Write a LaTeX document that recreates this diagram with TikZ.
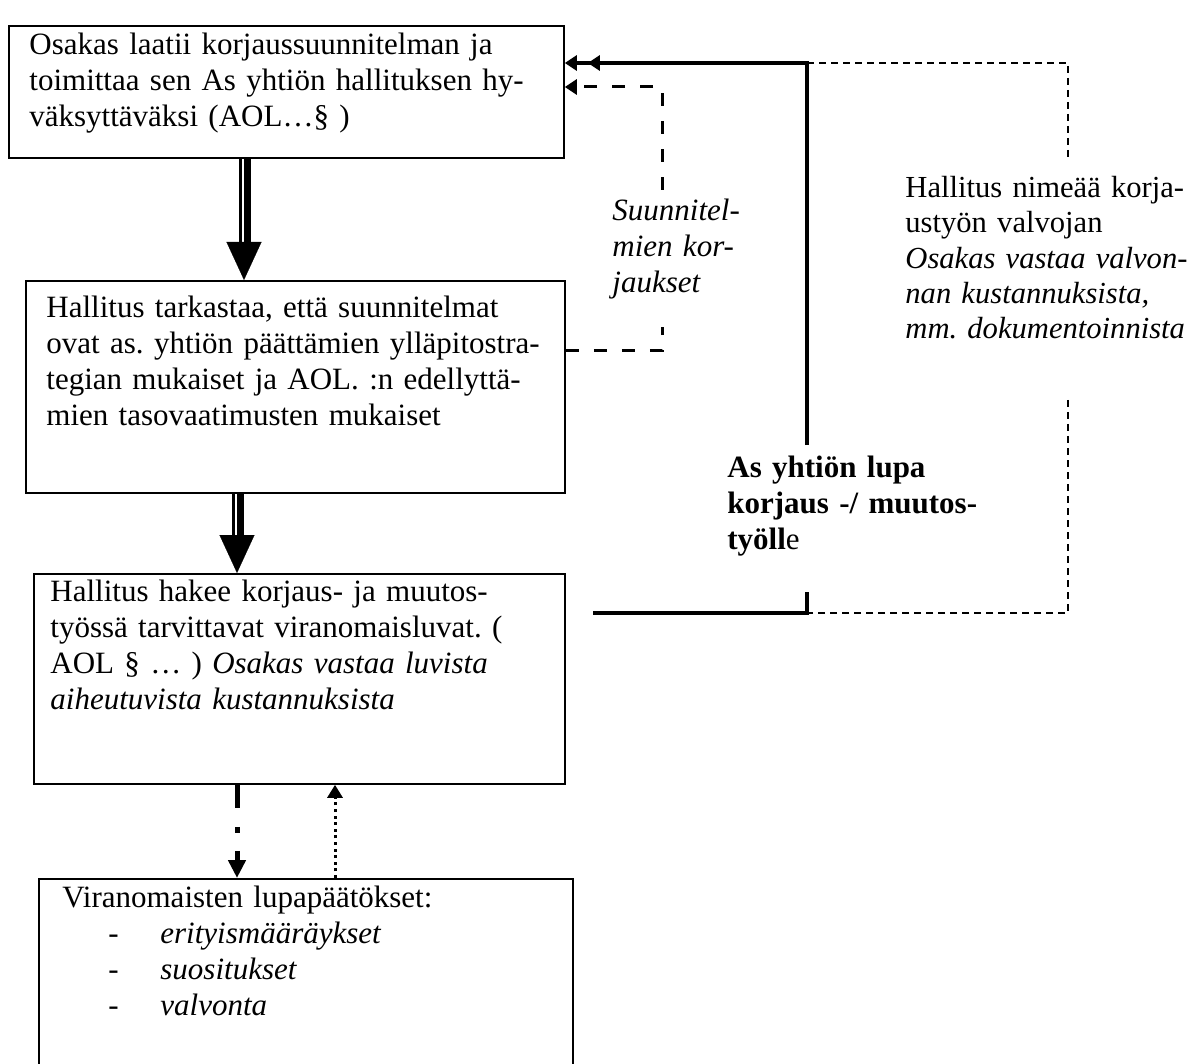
\documentclass[tikz,border=0pt]{standalone}
\usepackage{fontspec}
\setmainfont{Liberation Serif}
\usetikzlibrary{arrows.meta}

\tikzset{
  box/.style={draw, line width=0.9pt, anchor=north west, inner sep=0pt},
  txt/.style={anchor=north west, align=left, inner sep=0pt, text width=280pt,
    font=\fontsize{15.5}{18}\selectfont\frenchspacing},
  thinshaft/.style={line width=1.5pt},
  thickshaft/.style={line width=3.5pt},
  bighead/.style={line width=0.1pt, -{Triangle[length=19pt,width=17.5pt]}},
  dashline/.style={line width=1.5pt, dash pattern=on 6.5pt off 7.5pt},
  thinline/.style={line width=0.8pt, dash pattern=on 3.5pt off 2.5pt},
  solidline/.style={line width=2pt, line join=miter},
}

\begin{document}
\begin{tikzpicture}[x=0.5pt, y=-0.5pt]
\useasboundingbox (0,0) rectangle (1195,1064);
\clip (0,0) rectangle (1195,1064);

% boxes
\node[box, minimum width=277.5pt, minimum height=66pt] (b1) at (8,25) {};
\node[box, minimum width=269.5pt, minimum height=106pt] (b2) at (25,280) {};
\node[box, minimum width=265.5pt, minimum height=105pt] (b3) at (33,573) {};
\node[box, minimum width=267pt, minimum height=100pt] (b4) at (38,878) {};

% texts
\node[txt] (t1) at (29,33) {Osakas laatii korjaussuunnitelman ja\\
toimittaa sen As yhtiön hallituksen hy-\\
väksyttäväksi (AOL…§ )};
\node[txt] (t2) at (46,296) {Hallitus tarkastaa, että suunnitelmat\\
ovat as. yhtiön päättämien ylläpitostra-\\
tegian mukaiset ja AOL. :n edellyttä-\\
mien tasovaatimusten mukaiset};
\node[txt] (t3) at (50,580) {Hallitus hakee korjaus- ja muutos-\\
työssä tarvittavat viranomaisluvat. (\\
AOL § … ) \textit{Osakas vastaa luvista}\\
\textit{aiheutuvista kustannuksista}};
\node[txt] (t4) at (62,886) {Viranomaisten lupapäätökset:\\
\makebox[49pt][l]{\hspace{23pt}-}\textit{erityismääräykset}\\
\makebox[49pt][l]{\hspace{23pt}-}\textit{suositukset}\\
\makebox[49pt][l]{\hspace{23pt}-}\textit{valvonta}};
\node[txt] (tm) at (612,199) {\textit{Suunnitel-}\\
\textit{mien kor-}\\
\textit{jaukset}};
\node[txt, font=\fontsize{15.3}{17.6}\selectfont\frenchspacing] (tr) at (905,176) {Hallitus nimeää korja-\\
ustyön valvojan\\
\textit{Osakas vastaa valvon-}\\
\textit{nan kustannuksista,}\\
\textit{mm. dokumentoinnista}};
\node[txt] (tl) at (727,456) {\textbf{As yhtiön lupa}\\
\textbf{korjaus -/ muutos-}\\
\textbf{työll}e};

% double arrows between the boxes
\coordinate (a1) at (244,0);
\coordinate (a2) at (237,0);
\draw[thinshaft] ([xshift=-2pt]b1.south -| a1) -- ([xshift=-2pt,yshift=18pt]b2.north -| a1);
\draw[thickshaft] ([xshift=1.75pt]b1.south -| a1) -- ([xshift=1.75pt,yshift=18pt]b2.north -| a1);
\draw[bighead] ([yshift=19pt]b2.north -| a1) -- (b2.north -| a1);
\draw[thinshaft] ([xshift=-2pt]b2.south -| a2) -- ([xshift=-2pt,yshift=18pt]b3.north -| a2);
\draw[thickshaft] ([xshift=1.5pt]b2.south -| a2) -- ([xshift=1.5pt,yshift=18pt]b3.north -| a2);
\draw[bighead] ([yshift=19pt]b3.north -| a2) -- (b3.north -| a2);

% to and from the authorities
\coordinate (a3) at (237,0);
\coordinate (a4) at (335,0);
\draw[line width=2.5pt, dash pattern=on 11.5pt off 9.5pt on 3pt off 9pt,
  -{Triangle[length=9pt,width=8.5pt]}] (b3.south -| a3) -- (b4.north -| a3);
\draw[line width=1.5pt, dash pattern=on 1.5pt off 1.8pt,
  -{Triangle[length=6.5pt,width=7.5pt]}] (b4.north -| a4) -- (b3.south -| a4);

% corrections back to the owner
\coordinate (d1) at (662,351);
\coordinate (d2) at (662,327);
\coordinate (d3) at (662,190);
\coordinate (d4) at (662,87);
\draw[dashline] (b2.east |- d1) -- (d1) -- (d2);
\draw[dashline, -{Triangle[length=6pt,width=7.5pt]}] (d3) -- (d4) -- (b1.east |- d4);

% permission line
\coordinate (s1) at (807,63);
\coordinate (s2) at (807,445);
\coordinate (s3) at (807,592);
\coordinate (s4) at (807,613);
\coordinate (s5) at (593,613);
\draw[solidline, -{Triangle[length=6pt,width=7.5pt,sep=5.5pt]Triangle[length=6pt,width=7.5pt]}]
  (s2) -- (s1) -- (b1.east |- s1);
\draw[solidline] (s5) -- (s4) -- (s3);

% supervisor frame
\coordinate (r1) at (1068,63);
\coordinate (r2) at (1068,160);
\coordinate (r3) at (1068,400);
\coordinate (r4) at (1068,613);
\draw[thinline] (s1) -- (r1) -- (r2);
\draw[thinline] (r3) -- (r4) -- (s4);
\end{tikzpicture}
\end{document}
